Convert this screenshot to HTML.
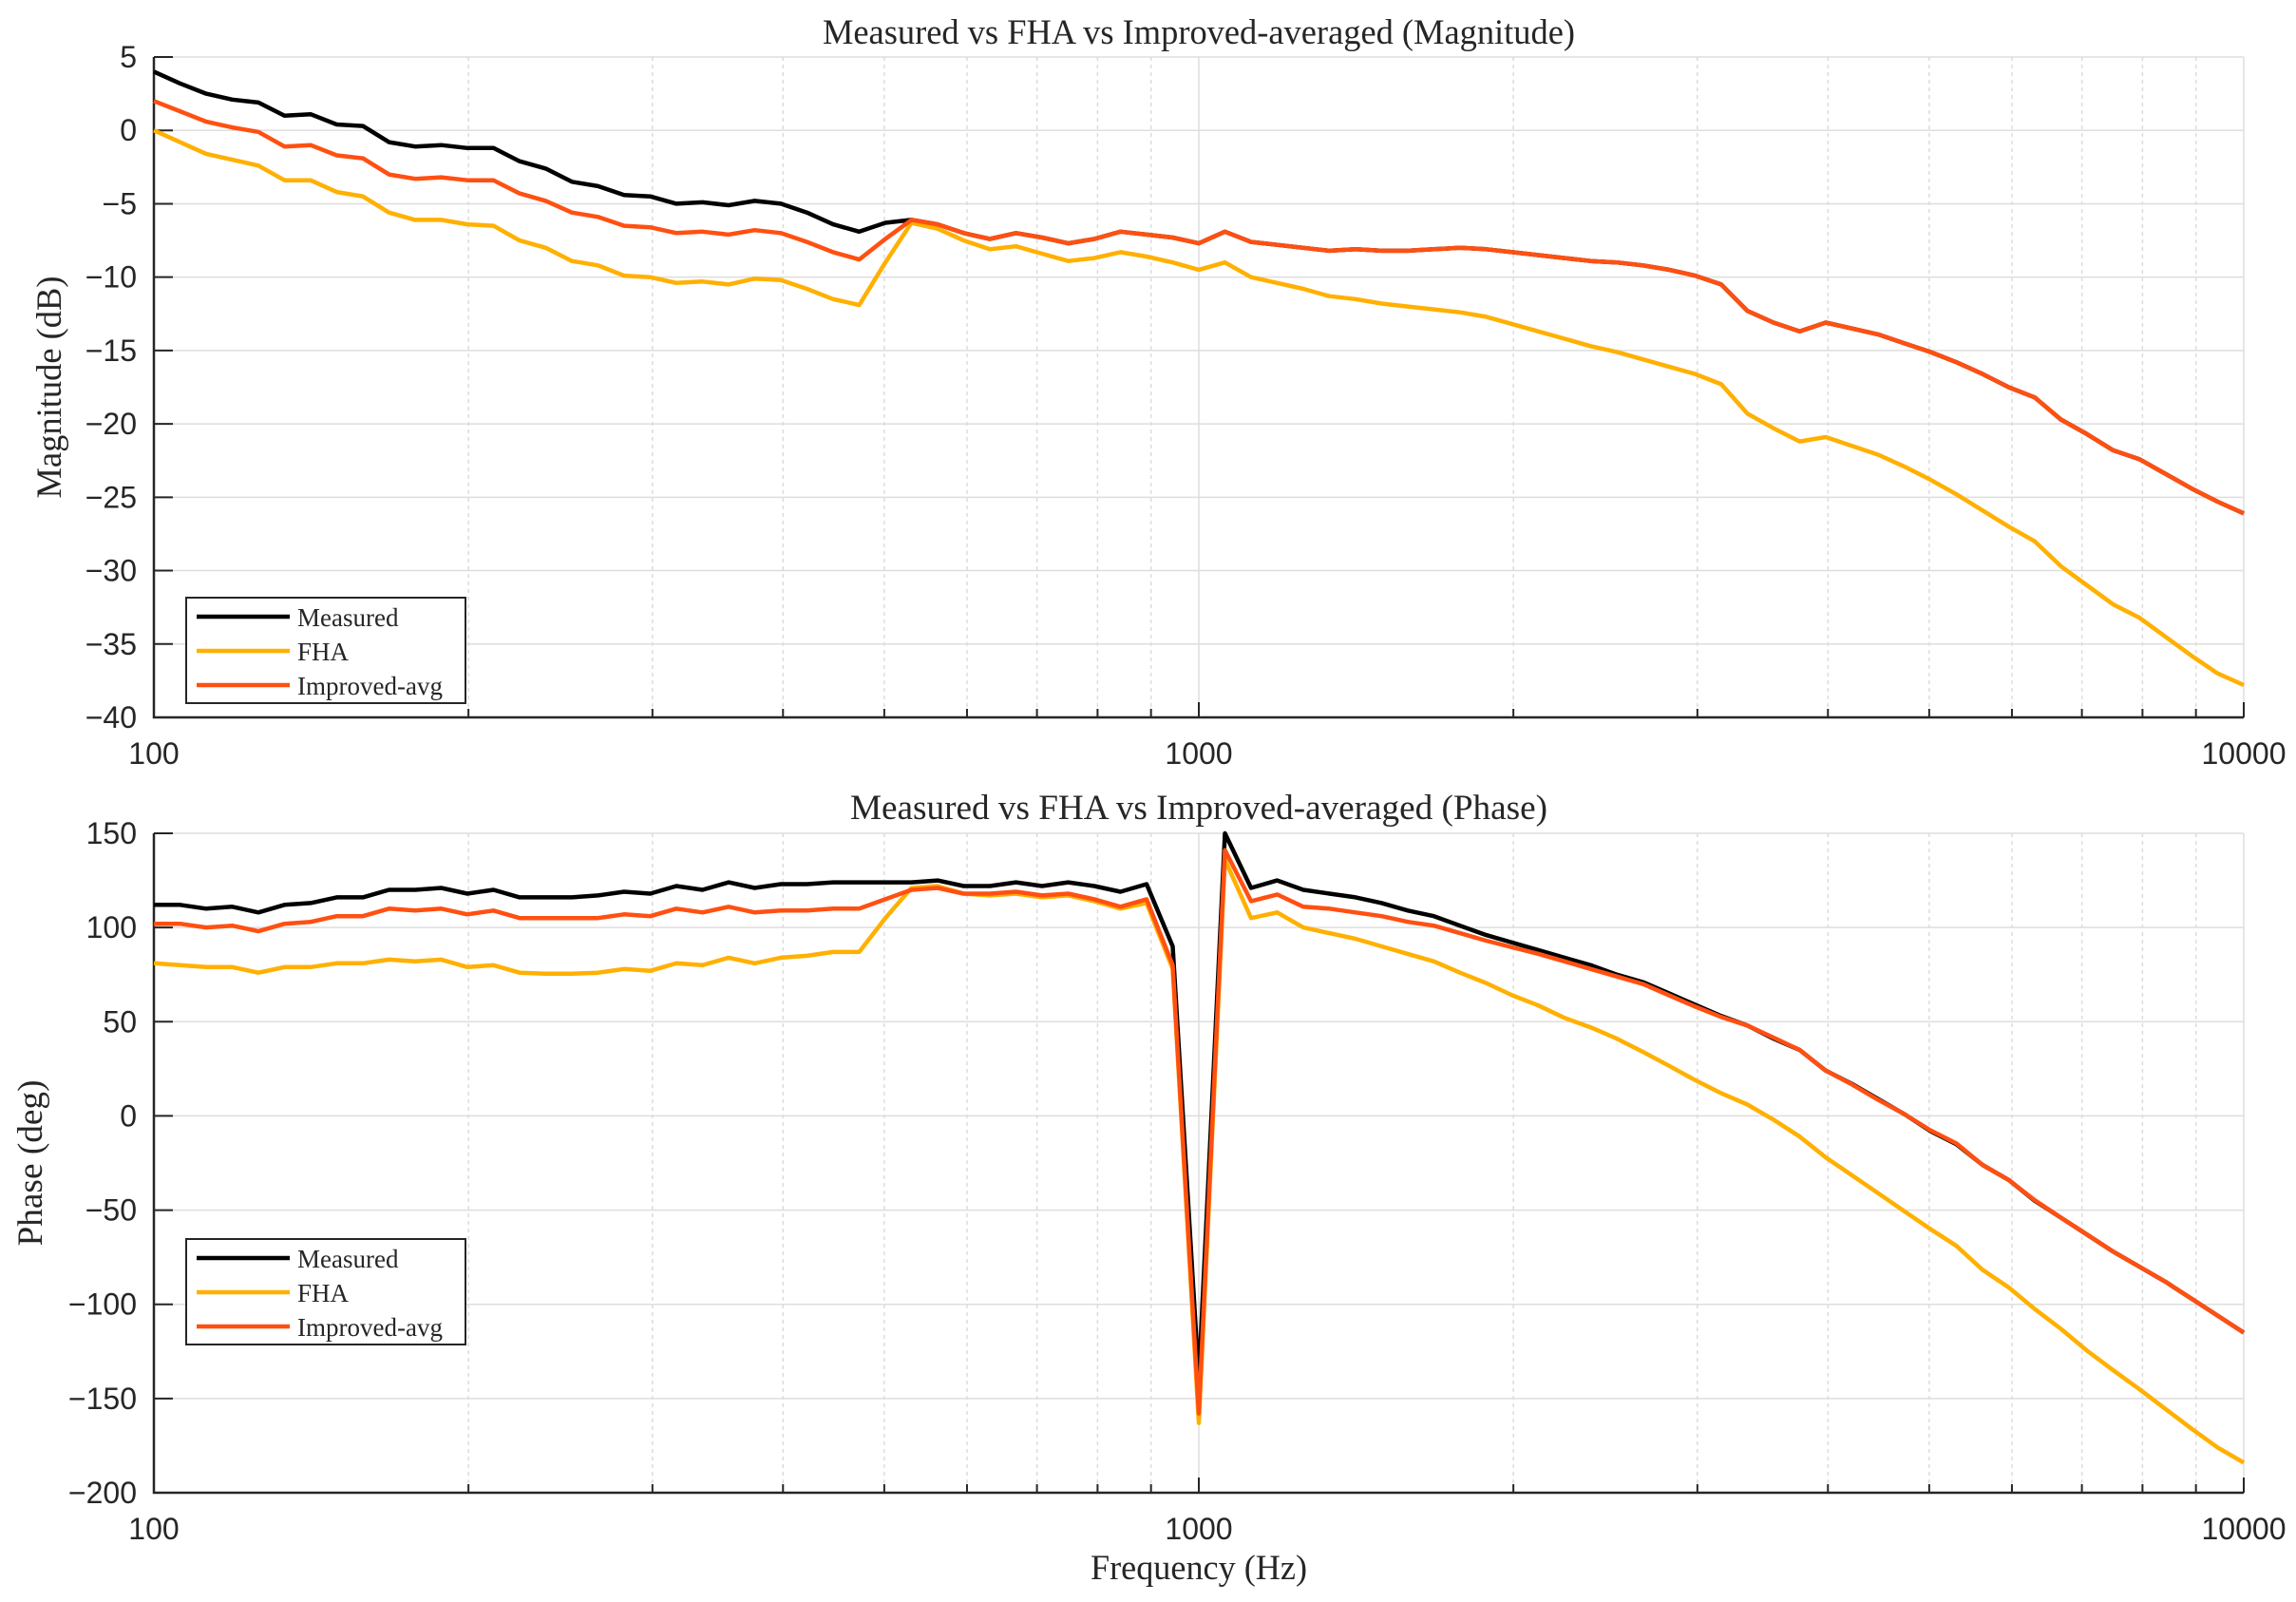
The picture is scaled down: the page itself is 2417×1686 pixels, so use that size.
<!DOCTYPE html>
<html><head><meta charset="utf-8"><style>
html,body{margin:0;padding:0;background:#fff;}
svg{display:block;}
.tk{font-family:"Liberation Sans",sans-serif;font-size:32px;fill:#262626;}
.sf{font-family:"Liberation Serif",serif;fill:#262626;}
</style></head><body>
<svg id="chart" width="2417" height="1686" viewBox="0 0 2417 1686" xmlns="http://www.w3.org/2000/svg"></svg>
<script>
// frequency index: f_i = 100*10^(i/40), i=0..80
const freqStart = 100, pointsPerDecade = 40;
const magMeasured = [4,3.2,2.5,2.1,1.9,1,1.1,0.4,0.3,-0.8,-1.1,-1,-1.2,-1.2,-2.1,-2.6,-3.5,-3.8,-4.4,-4.5,-5,-4.9,-5.1,-4.8,-5,-5.6,-6.4,-6.9,-6.3,-6.1,
-6.4,-7,-7.4,-7,-7.3,-7.7,-7.4,-6.9,-7.1,-7.3,-7.7,-6.9,-7.6,-7.8,-8,-8.2,-8.1,-8.2,-8.2,-8.1,-8,-8.1,-8.3,-8.5,-8.7,-8.9,-9,-9.2,-9.5,-9.9,-10.5,-12.3,-13.1,-13.7,-13.1,-13.5,-13.9,-14.5,-15.1,-15.8,-16.6,-17.5,-18.2,-19.7,-20.7,-21.8,-22.4,-23.4,-24.4,-25.3,-26.1];
const magFHA = [0,-0.8,-1.6,-2,-2.4,-3.4,-3.4,-4.2,-4.5,-5.6,-6.1,-6.1,-6.4,-6.5,-7.5,-8,-8.9,-9.2,-9.9,-10,-10.4,-10.3,-10.5,-10.1,-10.2,-10.8,-11.5,-11.9,-9,-6.3,
-6.7,-7.5,-8.1,-7.9,-8.4,-8.9,-8.7,-8.3,-8.6,-9,-9.5,-9,-10,-10.4,-10.8,-11.3,-11.5,-11.8,-12,-12.2,-12.4,-12.7,-13.2,-13.7,-14.2,-14.7,-15.1,-15.6,-16.1,-16.6,-17.3,-19.3,-20.3,-21.2,-20.9,-21.5,-22.1,-22.9,-23.8,-24.8,-25.9,-27,-28,-29.7,-31,-32.3,-33.2,-34.5,-35.8,-37,-37.8];
const magImproved = [2,1.3,0.6,0.2,-0.1,-1.1,-1,-1.7,-1.9,-3,-3.3,-3.2,-3.4,-3.4,-4.3,-4.8,-5.6,-5.9,-6.5,-6.6,-7,-6.9,-7.1,-6.8,-7,-7.6,-8.3,-8.8,-7.4,-6.1,
-6.4,-7,-7.4,-7,-7.3,-7.7,-7.4,-6.9,-7.1,-7.3,-7.7,-6.9,-7.6,-7.8,-8,-8.2,-8.1,-8.2,-8.2,-8.1,-8,-8.1,-8.3,-8.5,-8.7,-8.9,-9,-9.2,-9.5,-9.9,-10.5,-12.3,-13.1,-13.7,-13.1,-13.5,-13.9,-14.5,-15.1,-15.8,-16.6,-17.5,-18.2,-19.7,-20.7,-21.8,-22.4,-23.4,-24.4,-25.3,-26.1];
const phMeasured = [112,112,110,111,108,112,113,116,116,120,120,121,118,120,116,116,116,117,119,118,122,120,124,121,123,123,124,124,124,124,125,122,122,124,122,124,122,119,123,90,
-140,150,121,125,120,118,116,113,109,106,101,96,92,88,84,80,75,71,65,59,53,48,41,35,24,17,9,1,-8,-15,-26,-34,-45,-54,-63,-72,-80,-88,-97,-106,-115];
const phFHA = [81,80,79,79,76,79,79,81,81,83,82,83,79,80,76,75.5,75.5,76,78,77,81,80,84,81,84,85,87,87,105,121,122,118,117,118,116,117,114,110,113,78,
-163,136,105,108,100,97,94,90,86,82,76,70.5,64,58.6,52,47,41,34,26.6,19,12,6,-2,-11,-22,-31.5,-41,-50.5,-60,-69,-81.7,-91,-102.5,-113,-124.6,-135,-145,-155.5,-166,-176,-184];
const phImproved = [102,102,100,101,98,102,103,106,106,110,109,110,107,109,105,105,105,105,107,106,110,108,111,108,109,109,110,110,115,120,121,118,118,119,117,118,115,111,115,80,
-158,141,114,117.5,111,110,108,106,103,101,97,93,89.5,86,82,78,74,70,64,58,52.5,48,41.5,35,24,16.7,8.6,1,-7.6,-14.6,-26,-34,-44.7,-54,-63,-72,-80,-88,-97,-106,-115];
const magTicks = [5,0,-5,-10,-15,-20,-25,-30,-35,-40];
const phTicks = [150,100,50,0,-50,-100,-150,-200];
const xTickLabels = ["100","1000","10000"];
const seriesNames = ["Measured","FHA","Improved-avg"];

const NS = "http://www.w3.org/2000/svg";
const svg = document.getElementById("chart");
const L = 162, R = 2362;
const colors = ["#000000","#FFB000","#FF5012"];
function el(tag, attrs, parent, text){
  const e = document.createElementNS(NS, tag);
  for (const k in attrs) e.setAttribute(k, attrs[k]);
  if (text !== undefined) e.textContent = text;
  (parent || svg).appendChild(e);
  return e;
}
function xScale(f){ return L + (Math.log10(f) - 2) / 2 * (R - L); }
function freqAt(i){ return freqStart * Math.pow(10, i / pointsPerDecade); }

function panel(name, top, bottom, yMin, yMax, ticks, series, title, titleY, titleW, ylabel, ylx, ylW, legendTop){
  const g = el("g", {});
  
  
  const yScale = v => bottom - (v - yMin) / (yMax - yMin) * (bottom - top);
  for (let d = 100; d < 10000; d *= 10) {
    for (let m = 2; m <= 9; m++) {
      const x = xScale(d * m);
      const gl = el("line", {x1:x, x2:x, y1:top, y2:bottom, stroke:"#dcdcdc", "stroke-width":1.5, "stroke-dasharray":"4 4"}, g);
      
      
      const t = el("line", {x1:x, x2:x, y1:bottom, y2:bottom-9, stroke:"#262626", "stroke-width":2}, g);
      
      
    }
  }
  [100,1000,10000].forEach((f, k) => {
    const x = xScale(f);
    const gl = el("line", {x1:x, x2:x, y1:top, y2:bottom, stroke:"#dedede", "stroke-width":1.5}, g);
    
    
    const t = el("line", {x1:x, x2:x, y1:bottom, y2:bottom-16, stroke:"#262626", "stroke-width":2}, g);
    
    
    const lb = el("text", {x:x, y:bottom+49, "text-anchor":"middle", class:"tk"}, g, xTickLabels[k]);
    
    
  });
  ticks.forEach(v => {
    const y = yScale(v);
    const gl = el("line", {x1:L, x2:R, y1:y, y2:y, stroke:"#dedede", "stroke-width":1.5}, g);
    
    
    const t = el("line", {x1:L, x2:L+20, y1:y, y2:y, stroke:"#262626", "stroke-width":2}, g);
    
    
    const lb = el("text", {x:L-18, y:y+11, "text-anchor":"end", class:"tk"}, g, String(v).replace("-", "\u2212"));
    
    
  });
  const ax = el("path", {d:`M${L},${top} L${L},${bottom} L${R},${bottom}`, fill:"none", stroke:"#262626", "stroke-width":2.5}, g);
  
  
  series.forEach((arr, s) => {
    const d = arr.map((v, i) => (i ? "L" : "M") + xScale(freqAt(i)).toFixed(1) + "," + yScale(v).toFixed(1)).join(" ");
    const p = el("path", {d:d, fill:"none", stroke:colors[s], "stroke-width":4.5, "stroke-linejoin":"round"}, g);
    
    
  });
  const tt = el("text", {x:(L+R)/2, y:titleY, "text-anchor":"middle", class:"sf", "font-size":37, textLength:titleW, lengthAdjust:"spacingAndGlyphs"}, g, title);
  
  
  const cy = (top + bottom) / 2;
  const yl = el("text", {x:ylx, y:cy, "text-anchor":"middle", class:"sf", "font-size":37, textLength:ylW, lengthAdjust:"spacingAndGlyphs", transform:`rotate(-90 ${ylx} ${cy})`}, g, ylabel);
  
  
  const lg = el("g", {}, g);
  
  
  el("rect", {x:196, y:legendTop, width:294, height:111, fill:"#fff", stroke:"#262626", "stroke-width":2}, lg);
  seriesNames.forEach((n, s) => {
    const ry = legendTop + 20 + s * 36;
    const ln = el("line", {x1:207, x2:305, y1:ry, y2:ry, stroke:colors[s], "stroke-width":4.5}, lg);
    
    
    const tx = el("text", {x:313, y:ry+10, class:"sf", "font-size":27}, lg, n);
    
    
  });
}
panel("magnitude", 60, 755, -40, 5, magTicks, [magMeasured, magFHA, magImproved],
  "Measured vs FHA vs Improved-averaged (Magnitude)", 46, 792, "Magnitude (dB)", 64, 234, 629);
panel("phase", 877, 1571, -200, 150, phTicks, [phMeasured, phFHA, phImproved],
  "Measured vs FHA vs Improved-averaged (Phase)", 862, 734, "Phase (deg)", 44, 175, 1304);
const xl = el("text", {x:(L+R)/2, y:1662, "text-anchor":"middle", class:"sf", "font-size":37, textLength:228, lengthAdjust:"spacingAndGlyphs"}, svg, "Frequency (Hz)");


</script>
</body></html>
